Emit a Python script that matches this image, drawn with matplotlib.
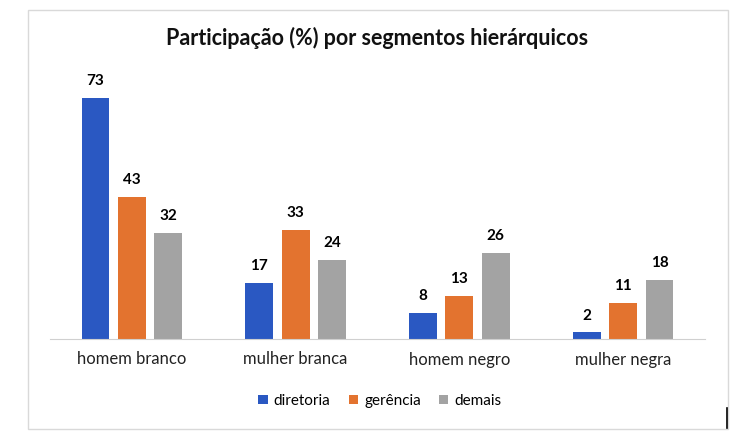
import numpy as np
import matplotlib.pyplot as plt
from matplotlib.patches import Rectangle

plt.rcParams['font.family'] = ['Lato', 'DejaVu Sans']

categorias = ['homem branco', 'mulher branca', 'homem negro', 'mulher negra']
diretoria = [73, 17, 8, 2]
gerencia = [43, 33, 13, 11]
demais = [32, 24, 26, 18]
series = ['diretoria', 'gerência', 'demais']
cores = ['#2A58C2', '#E3732F', '#A3A3A3']

fig = plt.figure(figsize=(7.5, 4.44), dpi=100)
fig.patches.append(Rectangle((28/750, 1-429/444), 700/750, 419/444, transform=fig.transFigure,
                             fill=False, edgecolor='#d9d9d9', lw=1))
ax = fig.add_axes([50/750, 1-339/444, 655/750, 264/444])

x = np.arange(len(categorias))
w = 0.17
passo = 0.222
for i, (vals, nome, cor) in enumerate(zip([diretoria, gerencia, demais], series, cores)):
    pos = x + (i-1)*passo
    ax.bar(pos, vals, w, color=cor, label=nome)
    for p, v in zip(pos, vals):
        ax.text(p, v+3, str(v), ha='center', va='bottom', fontsize=11, fontweight='bold', color='#000000')

ax.set_xlim(-0.5, 3.5)
ax.set_ylim(0, 80)
ax.set_yticks([])
ax.set_xticks(x)
ax.set_xticklabels(categorias, fontsize=12, color='#222222')
ax.tick_params(axis='x', length=0, pad=9)
for s in ['top', 'right', 'left']:
    ax.spines[s].set_visible(False)
ax.spines['bottom'].set_color('#d0d0d0')

fig.text(377/750, 1-38/444, 'Participação (%) por segmentos hierárquicos', ha='center', va='center',
         fontsize=15.5, fontweight='bold', color='#111111')
fig.legend(loc='center', bbox_to_anchor=(380/750, 1-401/444), ncol=3, frameon=False, fontsize=11,
           handlelength=0.6, handleheight=0.6, handletextpad=0.4, columnspacing=1.2)
fig.add_artist(plt.Line2D([727/750, 727/750], [1-428/444, 1-408/444], color='black', lw=1.2))

fig.savefig('out.png', dpi=100)
